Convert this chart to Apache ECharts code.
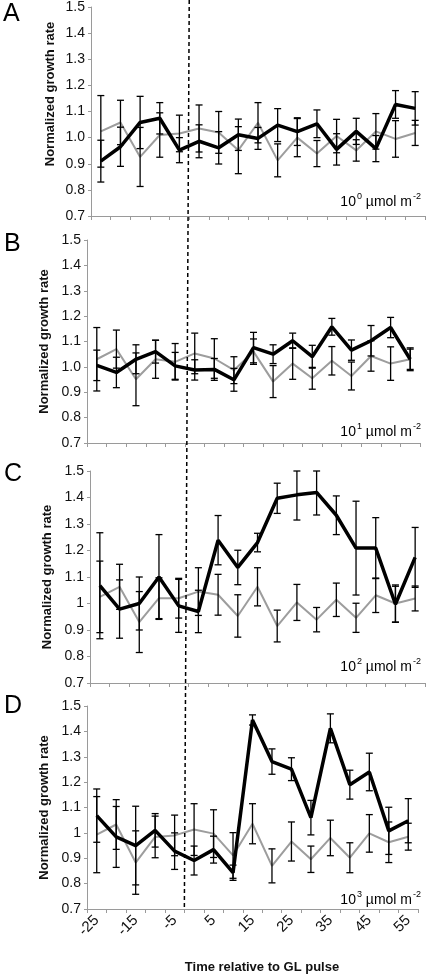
<!DOCTYPE html>
<html>
<head>
<meta charset="utf-8">
<script src="https://cdn.jsdelivr.net/npm/echarts@6/dist/echarts.min.js"></script>
<style>
html,body{margin:0;padding:0;background:#fff;}
#chart{width:428px;height:978px;}
</style>
</head>
<body>
<div id="chart"></div>
<script>
// Time relative to GL pulse (min)
const categories = ['-25','-20','-15','-10','-5','0','5','10','15','20','25','30','35','40','45','50','55'];

// Panel A: 10^0 µmol m-2
const aBlack    = [0.910, 0.965, 1.058, 1.074, 0.952, 0.986, 0.961, 1.011, 0.997, 1.048, 1.023, 1.053, 0.955, 1.024, 0.958, 1.127, 1.112];
const aBlackErr = [0.080, 0.075, 0.100, 0.060, 0.048, 0.063, 0.062, 0.060, 0.042, 0.063, 0.053, 0.053, 0.060, 0.050, 0.050, 0.053, 0.064];
const aGray     = [1.024, 1.058, 0.926, 1.010, 1.016, 1.035, 1.020, 0.952, 1.057, 0.913, 1.000, 0.939, 1.006, 0.951, 1.024, 0.995, 1.018];
const aGrayErr  = [0.137, 0.085, 0.113, 0.085, 0.070, 0.090, 0.080, 0.090, 0.077, 0.063, 0.073, 0.050, 0.064, 0.041, 0.068, 0.070, 0.048];

// Panel B: 10^1 µmol m-2
const bBlack    = [1.006, 0.978, 1.030, 1.060, 1.004, 0.988, 0.990, 0.949, 1.076, 1.050, 1.103, 1.040, 1.158, 1.066, 1.103, 1.155, 1.030];
const bBlackErr = [0.060, 0.060, 0.057, 0.045, 0.053, 0.040, 0.043, 0.045, 0.060, 0.037, 0.030, 0.045, 0.033, 0.040, 0.060, 0.040, 0.045];
const bGray     = [1.030, 1.070, 0.951, 1.030, 1.020, 1.053, 1.033, 0.987, 1.060, 0.942, 1.013, 0.955, 1.024, 0.964, 1.043, 1.013, 1.030];
const bGrayErr  = [0.125, 0.075, 0.104, 0.075, 0.072, 0.080, 0.078, 0.053, 0.050, 0.063, 0.062, 0.043, 0.056, 0.055, 0.060, 0.066, 0.040];

// Panel C: 10^2 µmol m-2
const cBlack    = [1.067, 0.979, 1.000, 1.100, 0.991, 0.970, 1.239, 1.136, 1.230, 1.397, 1.410, 1.419, 1.333, 1.209, 1.209, 0.997, 1.174];
const cBlackErr = [0.200, 0.110, 0.100, 0.160, 0.100, 0.080, 0.093, 0.065, 0.035, 0.057, 0.095, 0.085, 0.073, 0.177, 0.115, 0.068, 0.113];
const cGray     = [1.025, 1.063, 0.930, 1.020, 1.020, 1.045, 1.033, 0.953, 1.063, 0.915, 1.004, 0.939, 1.014, 0.946, 1.031, 1.000, 1.019];
const cGrayErr  = [0.135, 0.085, 0.115, 0.077, 0.075, 0.090, 0.077, 0.080, 0.072, 0.060, 0.068, 0.046, 0.063, 0.055, 0.065, 0.070, 0.047];

// Panel D: 10^3 µmol m-2
const dBlack    = [1.068, 0.984, 0.950, 1.010, 0.928, 0.891, 0.934, 0.843, 1.445, 1.281, 1.251, 1.060, 1.412, 1.190, 1.240, 1.008, 1.048];
const dBlackErr = [0.105, 0.120, 0.155, 0.066, 0.072, 0.057, 0.053, 0.030, 0.020, 0.050, 0.045, 0.068, 0.057, 0.057, 0.074, 0.093, 0.087];
const dGray     = [0.993, 1.033, 0.883, 0.984, 0.990, 1.013, 0.997, 0.911, 1.036, 0.870, 0.966, 0.896, 0.980, 0.902, 0.998, 0.963, 0.985];
const dGrayErr  = [0.150, 0.098, 0.125, 0.082, 0.080, 0.102, 0.094, 0.090, 0.079, 0.067, 0.077, 0.052, 0.070, 0.059, 0.074, 0.080, 0.053];

const yMin = 0.7, yMax = 1.5, yStep = 0.1;
const panelLetters = ['A', 'B', 'C', 'D'];
const doseExponents = ['0', '1', '2', '3'];
const yAxisTitle = 'Normalized growth rate';
const xAxisTitle = 'Time relative to GL pulse';

const panels = [
  {black: aBlack, blackErr: aBlackErr, gray: aGray, grayErr: aGrayErr},
  {black: bBlack, blackErr: bBlackErr, gray: bGray, grayErr: bGrayErr},
  {black: cBlack, blackErr: cBlackErr, gray: cGray, grayErr: cGrayErr},
  {black: dBlack, blackErr: dBlackErr, gray: dGray, grayErr: dGrayErr}
];

// layout
const FONT = "'Liberation Sans', Arial, sans-serif";
const grids = [
  {left: 91, right: 3, top: 7, height: 209},
  {left: 87, right: 8, top: 240, height: 203},
  {left: 90, right: 3, top: 471, height: 212},
  {left: 87, right: 10, top: 706, height: 203}
];
const letterPos = [[3, 2], [4, 232], [4, 462], [4, 694]];
const notePos = [[421, 201], [421, 431], [421, 666], [421, 899]];

const chart = echarts.init(document.getElementById('chart'), null, {renderer: 'canvas'});

const xAxes = [], yAxes = [], series = [];
panels.forEach((p, i) => {
  xAxes.push({
    gridIndex: i, type: 'category', data: categories, boundaryGap: true,
    axisLine: {lineStyle: {color: '#9a9a9a', width: 1}},
    axisTick: {show: true, interval: 0, length: 4, lineStyle: {color: '#9a9a9a'}},
    axisLabel: {show: i === 3, interval: 1, rotate: 45, fontSize: 15, color: '#111', fontFamily: FONT, margin: 9},
    splitLine: {show: false}
  });
  yAxes.push({
    gridIndex: i, type: 'value', min: yMin, max: yMax, interval: yStep,
    axisLine: {show: true, lineStyle: {color: '#9a9a9a', width: 1}},
    axisTick: {show: true, length: 3, lineStyle: {color: '#9a9a9a'}},
    splitLine: {show: false},
    axisLabel: {
      fontSize: 14, color: '#111', fontFamily: FONT, margin: 6,
      formatter: v => i < 2 ? v.toFixed(1) : String(parseFloat(v.toFixed(1)))
    },
    name: i === 0 ? '' : yAxisTitle, nameLocation: 'middle', nameGap: 29,
    nameTextStyle: {fontWeight: 'bold', fontSize: 13, color: '#111', fontFamily: FONT}
  });
  series.push({
    type: 'line', xAxisIndex: i, yAxisIndex: i, data: p.gray,
    symbol: 'none', lineStyle: {color: '#9d9d9d', width: 2}, z: 2, silent: true, animation: false
  });
  const errData = [];
  p.black.forEach((v, j) => errData.push([j, v, p.blackErr[j]]));
  p.gray.forEach((v, j) => errData.push([j, v, p.grayErr[j]]));
  series.push({
    type: 'custom', xAxisIndex: i, yAxisIndex: i, data: errData, z: 3, silent: true, animation: false,
    encode: {x: 0, y: 1},
    renderItem: (params, api) => {
      const x = api.value(0), v = api.value(1), e = api.value(2);
      const hi = api.coord([x, Math.min(v + e, yMax)]);
      const lo = api.coord([x, Math.max(v - e, yMin)]);
      const hw = 3.5;
      const st = {stroke: '#000', lineWidth: 1.3};
      return {
        type: 'group', children: [
          {type: 'line', shape: {x1: hi[0], y1: hi[1], x2: lo[0], y2: lo[1]}, style: st},
          {type: 'line', shape: {x1: hi[0] - hw, y1: hi[1], x2: hi[0] + hw, y2: hi[1]}, style: st},
          {type: 'line', shape: {x1: lo[0] - hw, y1: lo[1], x2: lo[0] + hw, y2: lo[1]}, style: st}
        ]
      };
    }
  });
  series.push({
    type: 'line', xAxisIndex: i, yAxisIndex: i, data: p.black,
    symbol: 'none', lineStyle: {color: '#000', width: 3.5}, z: 4, silent: true, animation: false
  });
});

chart.setOption({
  backgroundColor: '#fff',
  animation: false,
  textStyle: {fontFamily: FONT},
  grid: grids,
  xAxis: xAxes,
  yAxis: yAxes,
  series: series
});

// dashed reference line at the pulse (between -5 and 0), through the library's scales
const midX = (g, yv) => {
  const a = chart.convertToPixel({gridIndex: g}, [4, yv]);
  const b = chart.convertToPixel({gridIndex: g}, [5, yv]);
  return [(a[0] + b[0]) / 2, a[1]];
};
const topPt = midX(0, yMax);
const botPt = midX(3, yMin);

const graphics = [];
graphics.push({
  type: 'line', z: 10, silent: true,
  shape: {x1: topPt[0], y1: 0, x2: botPt[0], y2: botPt[1]},
  style: {stroke: '#000', lineWidth: 1.5, lineDash: [4, 3]}
});
panelLetters.forEach((L, i) => {
  graphics.push({
    type: 'text', left: letterPos[i][0], top: letterPos[i][1], silent: true,
    style: {text: L, fontSize: 25, fontFamily: FONT, fill: '#000'}
  });
  graphics.push({
    type: 'text', x: notePos[i][0], y: notePos[i][1], silent: true,
    style: {
      text: '{n|10}{s|' + doseExponents[i] + '}{n| µmol m}{s|-2}',
      align: 'right', verticalAlign: 'middle', fontFamily: FONT,
      rich: {
        n: {fontSize: 14, fontFamily: FONT, fill: '#000', lineHeight: 17, verticalAlign: 'bottom'},
        s: {fontSize: 9, fontFamily: FONT, fill: '#000', lineHeight: 17, verticalAlign: 'top', padding: [0, 0, 0, 1]}
      }
    }
  });
});
// panel A y-axis title (sits a little higher than the plot middle in the original)
graphics.push({
  type: 'text', x: 50, y: 94, rotation: Math.PI / 2, silent: true,
  style: {text: yAxisTitle, fontSize: 13, fontWeight: 'bold', fontFamily: FONT, fill: '#111', align: 'center', verticalAlign: 'middle'}
});
graphics.push({
  type: 'text', x: 262, y: 967, silent: true,
  style: {text: xAxisTitle, fontSize: 13, fontWeight: 'bold', fontFamily: FONT, fill: '#111', align: 'center', verticalAlign: 'middle'}
});
chart.setOption({graphic: graphics});
</script>
</body>
</html>
